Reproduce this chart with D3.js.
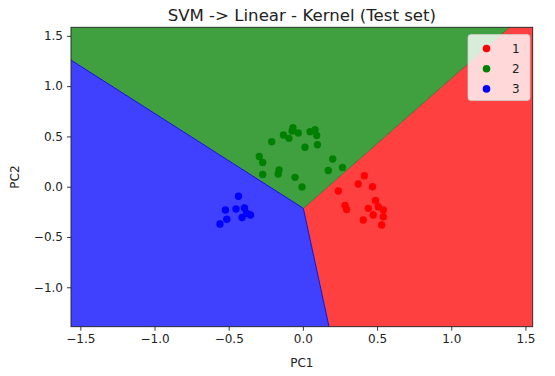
<!DOCTYPE html>
<html><head><meta charset="utf-8">
<script src="https://cdn.jsdelivr.net/npm/d3@7"></script>
<style>
html,body{margin:0;padding:0;background:#fff;}
svg{display:block;font-family:"DejaVu Sans",sans-serif;}
</style></head>
<body><svg id="c" width="555" height="376"></svg>
<script>
const title = "SVM -> Linear - Kernel (Test set)";
const xLabel = "PC1", yLabel = "PC2";
const xDomain = [-1.563, 1.549];
const yDomain = [-1.392, 1.585];
const xTicks = [-1.5, -1.0, -0.5, 0.0, 0.5, 1.0, 1.5];
const yTicks = [-1.0, -0.5, 0.0, 0.5, 1.0, 1.5];
const classes = ["1", "2", "3"];
const regionColors = ["#ff4040", "#40a040", "#4040ff"];
const pointColors = ["#ff0000", "#008000", "#0000ff"];

// decision boundary: junction and where each boundary meets the frame
const junction = [0.003, -0.215];
const edgeBlueGreen = [-1.563, 1.259];
const edgeGreenRed = [1.392, 1.585];
const edgeBlueRed = [0.176, -1.392];

// test set points per class
const class1 = [[0.239,-0.043],[0.284,-0.187],[0.295,-0.227],[0.414,0.109],[0.373,0.027],[0.469,0.000],[0.489,-0.137],[0.441,-0.215],[0.407,-0.331],[0.508,-0.199],[0.542,-0.232],[0.542,-0.298],[0.474,-0.281],[0.531,-0.381]];
const class2 = [[-0.210,0.447],[-0.131,0.514],[-0.094,0.481],[-0.067,0.586],[-0.073,0.554],[-0.031,0.534],[0.048,0.547],[0.082,0.567],[0.093,0.509],[0.014,0.392],[0.098,0.417],[-0.294,0.300],[-0.271,0.241],[-0.271,0.121],[-0.161,0.166],[-0.166,0.126],[-0.053,0.093],[-0.006,-0.003],[0.201,0.275],[0.171,0.161],[0.267,0.191]];
const class3 = [[-0.434,-0.095],[-0.522,-0.232],[-0.451,-0.222],[-0.394,-0.212],[-0.379,-0.264],[-0.353,-0.281],[-0.410,-0.306],[-0.513,-0.324],[-0.559,-0.371]];

const svg = d3.select("#c");
const L = 71, R = 532.7, T = 27.3, B = 326.7;
const x = d3.scaleLinear().domain(xDomain).range([L, R]);
const y = d3.scaleLinear().domain(yDomain).range([B, T]);

const [x0, x1] = xDomain, [y0, y1] = yDomain;
const regions = [
  [[edgeGreenRed[0], y1], [x1, y1], [x1, y0], edgeBlueRed, junction],
  [[x0, y1], edgeGreenRed, junction, edgeBlueGreen],
  [edgeBlueGreen, junction, edgeBlueRed, [x0, y0]]
];
const line = d3.line().x(d => x(d[0])).y(d => y(d[1]));
svg.append("g").selectAll("path").data(regions).join("path")
  .attr("d", d => line(d) + "Z")
  .attr("fill", (d, i) => regionColors[i]);

// boundary edges (darker, as contour antialiasing)
svg.append("path").attr("d", line([edgeBlueGreen, junction, edgeBlueRed]))
  .attr("fill", "none").attr("stroke", "#1010d0").attr("stroke-width", 1);
svg.append("path").attr("d", line([junction, edgeGreenRed]))
  .attr("fill", "none").attr("stroke", "#2a6a2a").attr("stroke-width", 0.8);

// points
const sets = [class1, class2, class3];
sets.forEach((pts, i) => {
  svg.append("g").selectAll("circle").data(pts).join("circle")
    .attr("cx", d => x(d[0])).attr("cy", d => y(d[1])).attr("r", 3.7)
    .attr("fill", pointColors[i]);
});

// frame
svg.append("rect").attr("x", L).attr("y", T).attr("width", R - L).attr("height", B - T)
  .attr("fill", "none").attr("stroke", "#222").attr("stroke-width", 0.9);

const fmt = d3.format(".1f");
const gx = svg.append("g").attr("transform", `translate(0,${B})`)
  .call(d3.axisBottom(x).tickValues(xTicks).tickFormat(fmt).tickSizeOuter(0).tickSize(4).tickPadding(4));
const gy = svg.append("g").attr("transform", `translate(${L},0)`)
  .call(d3.axisLeft(y).tickValues(yTicks).tickFormat(fmt).tickSizeOuter(0).tickSize(4).tickPadding(4));
[gx, gy].forEach(g => {
  g.select(".domain").remove();
  g.selectAll("line").attr("stroke", "#222").attr("stroke-width", 0.9);
  g.selectAll("text").attr("font-size", 12).attr("fill", "#222").attr("font-family", "DejaVu Sans");
});

svg.append("text").attr("x", (L + R) / 2).attr("y", 20.5).attr("text-anchor", "middle")
  .attr("font-size", 16.6).attr("fill", "#222").text(title);
svg.append("text").attr("x", (L + R) / 2).attr("y", 367).attr("text-anchor", "middle")
  .attr("font-size", 12).attr("fill", "#222").text(xLabel);
svg.append("text").attr("transform", `translate(19,${(T + B) / 2}) rotate(-90)`).attr("text-anchor", "middle")
  .attr("font-size", 12).attr("fill", "#222").text(yLabel);

// legend
const lg = svg.append("g").attr("transform", "translate(468,34.5)");
lg.append("rect").attr("width", 62).attr("height", 66).attr("rx", 3)
  .attr("fill", "#fff").attr("fill-opacity", 0.8).attr("stroke", "#ccc").attr("stroke-opacity", 0.8);
classes.forEach((c, i) => {
  lg.append("circle").attr("cx", 18.5).attr("cy", 14 + i * 20.2).attr("r", 3.8).attr("fill", pointColors[i]);
  lg.append("text").attr("x", 44).attr("y", 14 + i * 20.2).attr("dy", "0.36em")
    .attr("font-size", 12).attr("fill", "#222").text(c);
});
</script></body></html>
